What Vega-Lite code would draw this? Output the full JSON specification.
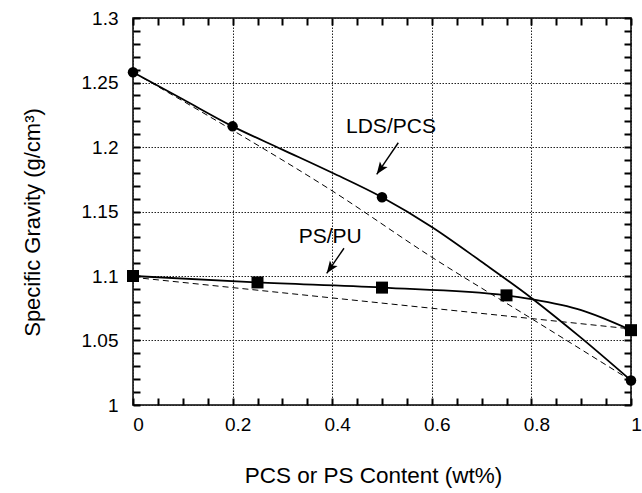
{
  "$schema": "https://vega.github.io/schema/vega-lite/v6.json",
  "width": 498,
  "height": 387,
  "autosize": {"type": "none"},
  "padding": {"left": 133, "top": 18, "right": 11, "bottom": 88},
  "background": "white",
  "config": {
    "view": {"stroke": "black", "strokeWidth": 1.5},
    "font": "Liberation Sans",
    "text": {"font": "Liberation Sans"}
  },
  "datasets": {
    "solid": [
      {"series": "LDS/PCS", "content": 0, "sg": 1.258},
      {"series": "LDS/PCS", "content": 0.1, "sg": 1.237},
      {"series": "LDS/PCS", "content": 0.2, "sg": 1.216},
      {"series": "LDS/PCS", "content": 0.3, "sg": 1.198},
      {"series": "LDS/PCS", "content": 0.4, "sg": 1.180},
      {"series": "LDS/PCS", "content": 0.5, "sg": 1.161},
      {"series": "LDS/PCS", "content": 0.6, "sg": 1.138},
      {"series": "LDS/PCS", "content": 0.7, "sg": 1.111},
      {"series": "LDS/PCS", "content": 0.8, "sg": 1.083},
      {"series": "LDS/PCS", "content": 0.9, "sg": 1.052},
      {"series": "LDS/PCS", "content": 1.0, "sg": 1.019},
      {"series": "PS/PU", "content": 0, "sg": 1.100},
      {"series": "PS/PU", "content": 0.25, "sg": 1.095},
      {"series": "PS/PU", "content": 0.5, "sg": 1.091},
      {"series": "PS/PU", "content": 0.75, "sg": 1.085},
      {"series": "PS/PU", "content": 0.8, "sg": 1.082},
      {"series": "PS/PU", "content": 0.9, "sg": 1.0735},
      {"series": "PS/PU", "content": 1.0, "sg": 1.058}
    ],
    "dashed": [
      {"series": "LDS/PCS", "content": 0, "sg": 1.258},
      {"series": "LDS/PCS", "content": 0.2, "sg": 1.213},
      {"series": "LDS/PCS", "content": 0.4, "sg": 1.166},
      {"series": "LDS/PCS", "content": 0.6, "sg": 1.1146},
      {"series": "LDS/PCS", "content": 0.8, "sg": 1.067},
      {"series": "LDS/PCS", "content": 1.0, "sg": 1.019},
      {"series": "PS/PU", "content": 0, "sg": 1.099},
      {"series": "PS/PU", "content": 1.0, "sg": 1.059}
    ],
    "markers": [
      {"series": "LDS/PCS", "content": 0, "sg": 1.258},
      {"series": "LDS/PCS", "content": 0.2, "sg": 1.216},
      {"series": "LDS/PCS", "content": 0.5, "sg": 1.161},
      {"series": "LDS/PCS", "content": 1.0, "sg": 1.019},
      {"series": "PS/PU", "content": 0, "sg": 1.100},
      {"series": "PS/PU", "content": 0.25, "sg": 1.095},
      {"series": "PS/PU", "content": 0.5, "sg": 1.091},
      {"series": "PS/PU", "content": 0.75, "sg": 1.085},
      {"series": "PS/PU", "content": 1.0, "sg": 1.058}
    ],
    "labels": [
      {"label": "LDS/PCS", "content": 0.518, "sg": 1.2155},
      {"label": "PS/PU", "content": 0.396, "sg": 1.13}
    ],
    "arrows": [
      {"content": 0.5327, "sg": 1.2033, "content2": 0.4894, "sg2": 1.1788},
      {"content": 0.4237, "sg": 1.1215, "content2": 0.389, "sg2": 1.1021}
    ]
  },
  "layer": [
    {
      "encoding": {
        "x": {
          "field": "content", "type": "quantitative",
          "scale": {"domain": [0, 1], "nice": false, "zero": false},
          "axis": {
            "orient": "bottom",
            "offset": -7,
            "values": [0, 0.05, 0.1, 0.15, 0.2, 0.25, 0.3, 0.35, 0.4, 0.45, 0.5, 0.55, 0.6, 0.65, 0.7, 0.75, 0.8, 0.85, 0.9, 0.95, 1],
            "title": "PCS or PS Content (wt%)",
            "titleFont": "Liberation Sans", "titleFontSize": 22.5, "titleFontWeight": "normal", "titleColor": "black",
            "titleX": 240, "titleY": 77, "titleAlign": "center", "titleBaseline": "middle",
            "labelExpr": "abs(datum.value*5 - round(datum.value*5)) < 0.001 ? format(datum.value, '~g') : ''",
            "labelFont": "Liberation Sans", "labelFontSize": 19, "labelColor": "black",
            "labelPadding": 10, "labelOffset": 5, "labelFlush": false, "labelOverlap": false, "labelBound": false,
            "ticks": true, "tickSize": 7, "tickColor": "#000000", "tickWidth": 2, "tickOpacity": 1,
            "domain": false,
            "grid": true, "gridColor": "#222", "gridDash": [1.5, 1.5], "gridWidth": 1,
            "gridOpacity": {"condition": {"test": "abs(datum.value*5 - round(datum.value*5)) < 0.001", "value": 1}, "value": 0}
          }
        },
        "y": {
          "field": "sg", "type": "quantitative",
          "scale": {"domain": [1, 1.3], "nice": false, "zero": false},
          "axis": {
            "orient": "left",
            "offset": -7,
            "values": [1, 1.01, 1.02, 1.03, 1.04, 1.05, 1.06, 1.07, 1.08, 1.09, 1.1, 1.11, 1.12, 1.13, 1.14, 1.15, 1.16, 1.17, 1.18, 1.19, 1.2, 1.21, 1.22, 1.23, 1.24, 1.25, 1.26, 1.27, 1.28, 1.29, 1.3],
            "title": "Specific Gravity (g/cm³)",
            "titleFont": "Liberation Sans", "titleFontSize": 22, "titleFontWeight": "normal", "titleColor": "black",
            "titleX": -108, "titleY": 204, "titleAlign": "center", "titleBaseline": "middle", "titleAngle": -90,
            "labelExpr": "abs(datum.value*20 - round(datum.value*20)) < 0.001 ? format(datum.value, '~g') : ''",
            "labelFont": "Liberation Sans", "labelFontSize": 19, "labelColor": "black",
            "labelPadding": 15, "labelFlush": false, "labelOverlap": false, "labelBound": false,
            "ticks": true, "tickSize": 7, "tickColor": "#000000", "tickWidth": 2, "tickOpacity": 1,
            "domain": false,
            "grid": true, "gridColor": "#222", "gridDash": [1.5, 1.5], "gridWidth": 1,
            "gridOpacity": {"condition": {"test": "abs(datum.value*20 - round(datum.value*20)) < 0.001", "value": 1}, "value": 0}
          }
        }
      },
      "layer": [
        {
          "data": {"name": "solid"},
          "mark": {"type": "line", "interpolate": "monotone", "color": "black", "strokeWidth": 1.8},
          "encoding": {"detail": {"field": "series", "type": "nominal"}}
        },
        {
          "data": {"name": "markers"},
          "transform": [{"filter": "datum.series === 'LDS/PCS'"}],
          "mark": {"type": "point", "shape": "circle", "filled": true, "color": "black", "opacity": 1, "size": 110}
        },
        {
          "data": {"name": "markers"},
          "transform": [{"filter": "datum.series === 'PS/PU'"}],
          "mark": {"type": "point", "shape": "square", "filled": true, "color": "black", "opacity": 1, "size": 144}
        },
        {
          "data": {"name": "labels"},
          "mark": {"type": "text", "font": "Liberation Sans", "fontSize": 21, "color": "black", "align": "center", "baseline": "middle"},
          "encoding": {"text": {"field": "label", "type": "nominal"}}
        },
        {
          "data": {"name": "arrows"},
          "mark": {"type": "rule", "color": "black", "strokeWidth": 1.4},
          "encoding": {"x2": {"field": "content2"}, "y2": {"field": "sg2"}}
        },
        {
          "data": {"name": "arrows"},
          "mark": {"type": "point", "shape": "M0,0L-0.42,1.1L0,0.85L0.42,1.1Z", "filled": true, "color": "black", "opacity": 1, "size": 500, "angle": 215},
          "encoding": {
            "x": {"field": "content2", "type": "quantitative"},
            "y": {"field": "sg2", "type": "quantitative"}
          }
        }
      ]
    },
    {
      "data": {"name": "dashed"},
      "mark": {"type": "line", "interpolate": "monotone", "color": "black", "strokeWidth": 1, "strokeDash": [6, 4]},
      "encoding": {
        "x": {
          "field": "content", "type": "quantitative",
          "scale": {"domain": [0, 1], "nice": false, "zero": false},
          "axis": {
            "orient": "top",
            "values": [0, 0.05, 0.1, 0.15, 0.2, 0.25, 0.3, 0.35, 0.4, 0.45, 0.5, 0.55, 0.6, 0.65, 0.7, 0.75, 0.8, 0.85, 0.9, 0.95, 1],
            "title": null, "labels": false, "domain": false, "grid": false,
            "ticks": true, "tickSize": -7, "tickColor": "#000000", "tickWidth": 2, "tickOpacity": 1
          }
        },
        "y": {
          "field": "sg", "type": "quantitative",
          "scale": {"domain": [1, 1.3], "nice": false, "zero": false},
          "axis": {
            "orient": "right",
            "values": [1, 1.01, 1.02, 1.03, 1.04, 1.05, 1.06, 1.07, 1.08, 1.09, 1.1, 1.11, 1.12, 1.13, 1.14, 1.15, 1.16, 1.17, 1.18, 1.19, 1.2, 1.21, 1.22, 1.23, 1.24, 1.25, 1.26, 1.27, 1.28, 1.29, 1.3],
            "title": null, "labels": false, "domain": false, "grid": false,
            "ticks": true, "tickSize": -7, "tickColor": "#000000", "tickWidth": 2, "tickOpacity": 1
          }
        },
        "detail": {"field": "series", "type": "nominal"}
      }
    }
  ]
}
